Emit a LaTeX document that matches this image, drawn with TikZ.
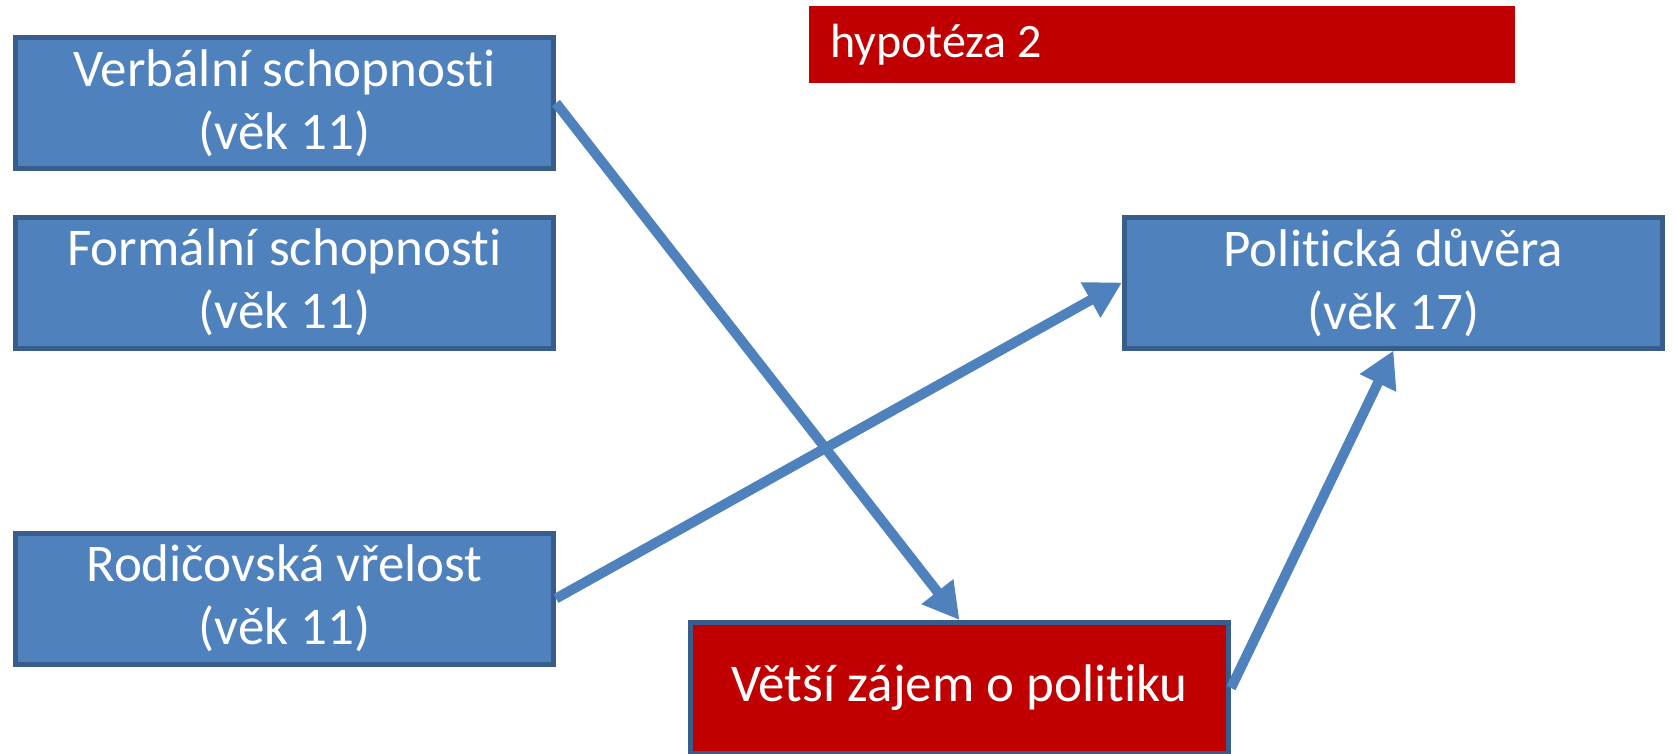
\documentclass[tikz,border=0pt]{standalone}
\usepackage{fontspec}
\setmainfont[Ligatures=NoCommon]{Carlito}
\usetikzlibrary{arrows.meta}
\definecolor{boxblue}{HTML}{4F81BD}
\definecolor{boxedge}{HTML}{385D8A}
\definecolor{boxred}{HTML}{C00000}
\begin{document}
\begin{tikzpicture}[x=1pt,y=-1pt,
  box/.style={draw=boxedge, line width=5pt, fill=boxblue, text=white,
    minimum width=538pt, minimum height=131pt, align=center, inner sep=0pt,
    font=\fontsize{53}{63}\selectfont},
  redbox/.style={box, fill=boxred},
  conn/.style={draw=boxblue, line width=10pt, -{Triangle[length=36pt,width=38pt]}}]
\useasboundingbox (0,0) rectangle (1675,754);
\node[box] (verb) at (284.5,103) {Verbální schopnosti\\(věk 11)};
\node[box] (form) at (284.5,282.5) {Formální schopnosti\\(věk 11)};
\node[box] (rod) at (284.5,598.5) {Rodičovská vřelost\\(věk 11)};
\node[box] (pol) at (1393.5,282.5) {Politická důvěra\\(věk 17)};
\node[redbox] (vet) at (959.5,688) {Větší zájem o politiku};
\node[fill=boxred, minimum width=706pt, minimum height=77pt, inner sep=0pt] (hyp) at (1162,44.5) {};
\node[text=white, anchor=west, inner sep=0pt, font=\fontsize{48}{58}\selectfont] (hyptext) at ([xshift=21pt]hyp.west) {hypotéza 2};
\draw[conn] (verb.east) -- (vet.north);
\draw[conn] (rod.east) -- (pol.west);
\draw[conn] (vet.east) -- (pol.south);
\end{tikzpicture}
\end{document}
